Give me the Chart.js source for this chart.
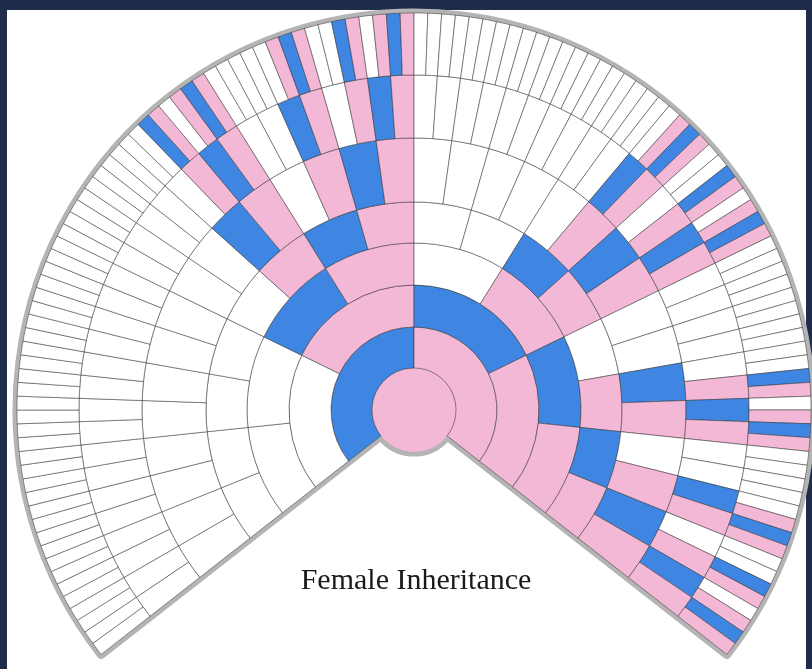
<!DOCTYPE html>
<html>
<head>
<meta charset="utf-8">
<script src="https://cdn.jsdelivr.net/npm/chart.js@4.4.0/dist/chart.umd.min.js"></script>
<style>
    html, body { margin: 0; padding: 0; }
    body { width: 812px; height: 669px; background: #1f2d4b; position: relative; overflow: hidden; }
    #papel { position: absolute; left: 7px; top: 10px; width: 799px; height: 659px; background: #fff; }
    #envoltura { position: absolute; left: 0; top: 0; width: 812px; height: 669px; }
    #titulo { position: absolute; left: 0; width: 832px; top: 562px; text-align: center;
              font-family: "Liberation Serif", serif; font-size: 30px; line-height: 34px; color: #1a1a1a; }
</style>
</head>
<body>
<div id="papel"></div>
<div id="envoltura"><canvas id="abanico" width="812" height="669"></canvas></div>
<div id="titulo">Female Inheritance</div>
<script>
// W = no X contribution, B = male ancestor, P = female ancestor
var generaciones = ["Self", "Parents", "Grandparents", "Great-grandparents",
                    "2x great", "3x great", "4x great", "5x great"];
var gen0 = "P";
var gen1 = "BP";
var gen2 = "WPBP";
var gen3 = "WWBPWPBP";
var gen4 = "WWWWWPBPWWBPWPBP";
var gen5 = "WWWWWWWWWWBPWPBP" + "WWWWWPBPWWBPWPBP";
var gen6 = "WWWWWWWWWWWWWWWW" + "WWWWWPBPWWBPWPBP" +
           "WWWWWWWWWWBPWPBP" + "WWWWWPBPWWBPWPBP";
var gen7 = "WWWWWWWWWWWWWWWW" + "WWWWWWWWWWWWWWWW" +
           "WWWWWWWWWWBPWPBP" + "WWWWWPBPWWBPWPBP" +
           "WWWWWWWWWWWWWWWW" + "WWWWWPBPWWBPWPBP" +
           "WWWWWWWWWWBPWPBP" + "WWWWWPBPWWBPWPBP";

var colores = { W: "#ffffff", B: "#3e86e2", P: "#f3b8d6" };
var grosor = [42, 41, 42, 42, 41, 64, 63, 62]; // ring thickness, self -> outer
var rotacion = -128;
var circunferencia = 256;

var anillos = [gen0, gen1, gen2, gen3, gen4, gen5, gen6, gen7];

// doughnut datasets go outermost first
var datasets = [];
for (var g = anillos.length - 1; g >= 0; g--) {
    var codigos = anillos[g].split("");
    datasets.push({
        label: generaciones[g],
        data: codigos.map(function () { return 1; }),
        backgroundColor: codigos.map(function (c) { return colores[c]; }),
        borderColor: "rgba(50, 50, 50, 0.65)",
        borderWidth: g === 0 ? 0 : 0.8,
        weight: grosor[g],
        rotation: g === 0 ? 0 : rotacion,
        circumference: g === 0 ? 360 : circunferencia,
    });
}

var contorno = {
    id: "contorno",
    beforeDatasetsDraw: function (chart) {
        var arco = chart.getDatasetMeta(0).data[0];
        var centro = chart.getDatasetMeta(chart.data.datasets.length - 1).data[0];
        if (!arco || !centro) return;
        var ctx = chart.ctx;
        var cx = arco.x, cy = arco.y;
        var a0 = ((rotacion - 90) * Math.PI) / 180;
        var a1 = a0 + (circunferencia * Math.PI) / 180;
        ctx.save();
        ctx.strokeStyle = "#b4b4b4";
        ctx.lineWidth = 9;
        ctx.lineJoin = "round";
        ctx.beginPath();
        ctx.moveTo(cx, cy);
        ctx.arc(cx, cy, arco.outerRadius, a0, a1);
        ctx.closePath();
        ctx.stroke();
        ctx.beginPath();
        ctx.arc(cx, cy, centro.outerRadius, 0, 2 * Math.PI);
        ctx.stroke();
        ctx.restore();
    },
};

var abanico = new Chart(document.getElementById("abanico"), {
    type: "doughnut",
    data: { labels: gen7.split("").map(function (c, i) { return "#" + (i + 1); }), datasets: datasets },
    options: {
        responsive: false,
        animation: false,
        events: [],
        cutout: 0,
        radius: 397,
        layout: { padding: { left: 16, right: 0, top: 151, bottom: 0 } },
        plugins: { legend: { display: false }, tooltip: { enabled: false }, title: { display: false } },
    },
    plugins: [contorno],
});
</script>
</body>
</html>
